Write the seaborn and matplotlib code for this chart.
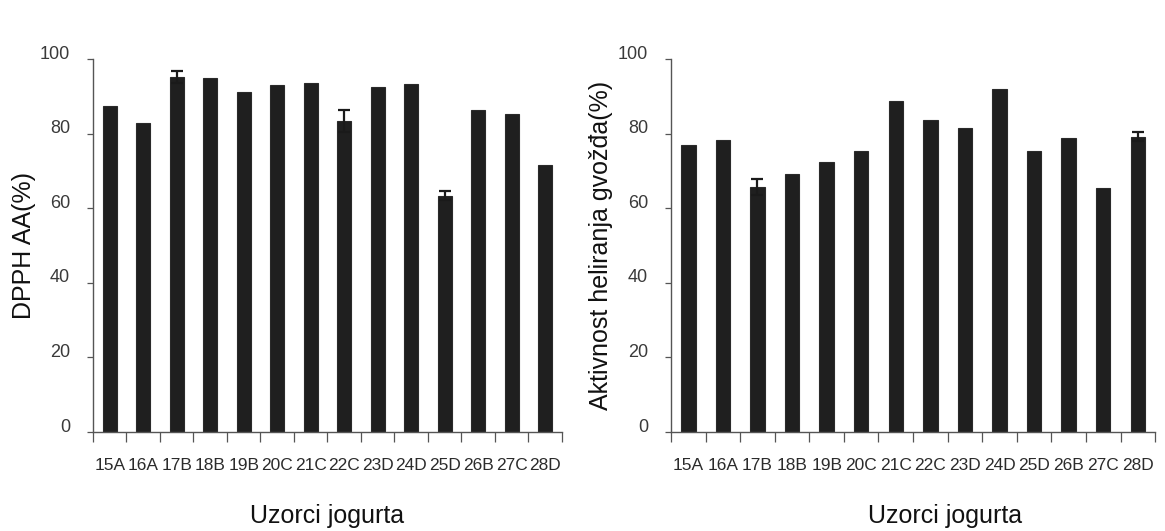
import matplotlib
matplotlib.use("Agg")
import matplotlib.pyplot as plt
import matplotlib.transforms as mtransforms
import seaborn as sns
import numpy as np

samples = ["15A", "16A", "17B", "18B", "19B", "20C", "21C",
           "22C", "23D", "24D", "25D", "26B", "27C", "28D"]

# DPPH antioxidant activity (%)
dpph = [87.4, 82.8, 95.3, 94.8, 91.2, 93.0, 93.7,
        83.4, 92.6, 93.3, 63.4, 86.4, 85.2, 71.7]
dpph_err = [0, 0, 1.6, 0, 0, 0, 0,
            3.0, 0, 0, 1.2, 0, 0, 0]

# iron chelating activity (%)
chel = [76.9, 78.3, 65.7, 69.3, 72.3, 75.3, 88.7,
        83.6, 81.6, 91.9, 75.3, 78.9, 65.3, 79.2]
chel_err = [0, 0, 2.2, 0, 0, 0, 0,
            0, 0, 0, 0, 0, 0, 1.3]

y_ticks = [0, 20, 40, 60, 80, 100]

sns.set_style("ticks")
plt.rcParams["font.family"] = ["Liberation Sans", "DejaVu Sans"]

fig = plt.figure(figsize=(11.65, 5.31), dpi=100)
ax1 = fig.add_axes([0.0798, 0.1864, 0.4026, 0.7024])
ax2 = fig.add_axes([0.5760, 0.1864, 0.4155, 0.7024])

bar_col = "#1f1f1f"


def draw(ax, values, errs, ylabel, ylabel_x, xlabel_x):
    sns.barplot(x=samples, y=values, color=bar_col, width=0.42,
                saturation=1, ax=ax, edgecolor="#2a2a2a", linewidth=0.8)
    pos = np.arange(len(samples))
    err = np.array(errs)
    mask = err > 0
    ax.errorbar(pos[mask], np.array(values)[mask], yerr=err[mask], fmt="none",
                ecolor="#1a1a1a", elinewidth=1.6, capsize=4.5, capthick=1.6)

    ax.set_xlim(-0.5, len(samples) - 0.5)
    ax.set_ylim(0, 100)
    ax.set_yticks(y_ticks)
    ax.set_xticks(pos)
    ax.set_xticks(np.arange(len(samples) + 1) - 0.5, minor=True)
    ax.set_xticklabels(samples, fontsize=12.5, color="#2b2b2b")
    ax.set_yticklabels([str(v) for v in y_ticks], fontsize=13,
                       color="#3a3a3a")
    ax.tick_params(axis="x", which="major", length=0, pad=19)
    ax.tick_params(axis="x", which="minor", length=7.5, width=0.9,
                   color="#555555", direction="out")
    ax.tick_params(axis="y", length=4.5, width=0.9, color="#555555", pad=12)

    # y tick labels sit a little above their ticks in the original
    shift = mtransforms.ScaledTranslation(0, 5 / 72, fig.dpi_scale_trans)
    for lab in ax.get_yticklabels():
        lab.set_transform(lab.get_transform() + shift)

    for side in ["top", "right"]:
        ax.spines[side].set_visible(False)
    for side in ["left", "bottom"]:
        ax.spines[side].set_color("#555555")
        ax.spines[side].set_linewidth(1.0)

    ax.set_ylabel(ylabel, fontsize=18, color="#111111")
    ax.yaxis.set_label_coords(ylabel_x, 0.5)
    ax.set_xlabel("Uzorci jogurta", fontsize=18, color="#111111")
    ax.xaxis.set_label_coords(xlabel_x, -0.193)


draw(ax1, dpph, dpph_err, "DPPH AA(%)", -0.122, 0.5)
draw(ax2, chel, chel_err, "Aktivnost heliranja gvožđa(%)", -0.12, 0.566)

fig.savefig("out.png", dpi=100)
